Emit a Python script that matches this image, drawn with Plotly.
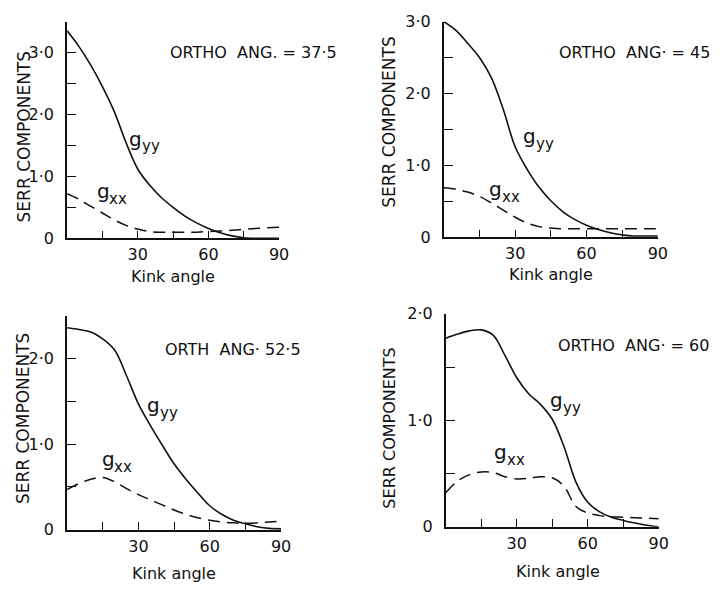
import plotly.graph_objects as go
from plotly.subplots import make_subplots

# Kink angle (degrees) at which the strain energy release rate components are read
kink_angle = [0, 5, 10, 15, 20, 25, 30, 35, 40, 45, 50, 55, 60, 65, 70, 75, 80, 85, 90]

# Orthotropy angle 37.5
gyy_375 = [3.35, 3.10, 2.80, 2.45, 2.05, 1.55, 1.12, 0.86, 0.66, 0.50, 0.36, 0.25, 0.16, 0.09, 0.04, 0.01, 0.0, 0.0, 0.0]
gxx_375 = [0.72, 0.63, 0.52, 0.41, 0.30, 0.21, 0.15, 0.11, 0.10, 0.10, 0.10, 0.10, 0.11, 0.12, 0.13, 0.145, 0.16, 0.17, 0.18]

# Orthotropy angle 45
gyy_45 = [3.00, 2.88, 2.70, 2.50, 2.22, 1.78, 1.26, 0.95, 0.70, 0.51, 0.36, 0.25, 0.17, 0.11, 0.065, 0.035, 0.02, 0.02, 0.02]
gxx_45 = [0.69, 0.67, 0.63, 0.57, 0.48, 0.38, 0.28, 0.20, 0.15, 0.13, 0.12, 0.12, 0.12, 0.12, 0.12, 0.12, 0.12, 0.12, 0.12]

# Orthotropy angle 52.5
gyy_525 = [2.36, 2.34, 2.31, 2.23, 2.10, 1.80, 1.47, 1.22, 0.99, 0.77, 0.59, 0.43, 0.28, 0.18, 0.11, 0.07, 0.035, 0.015, 0.01]
gxx_525 = [0.47, 0.54, 0.59, 0.61, 0.56, 0.48, 0.41, 0.35, 0.29, 0.23, 0.18, 0.14, 0.11, 0.09, 0.08, 0.075, 0.08, 0.09, 0.10]

# Orthotropy angle 60
gyy_60 = [1.77, 1.81, 1.84, 1.85, 1.80, 1.61, 1.40, 1.25, 1.15, 1.01, 0.75, 0.42, 0.23, 0.14, 0.09, 0.06, 0.035, 0.015, 0.0]
gxx_60 = [0.32, 0.43, 0.49, 0.515, 0.51, 0.47, 0.45, 0.455, 0.47, 0.46, 0.38, 0.19, 0.13, 0.105, 0.095, 0.09, 0.085, 0.08, 0.075]

panel_titles = ["ORTHO  ANG. = 37·5", "ORTHO  ANG· = 45", "ORTH  ANG· 52·5", "ORTHO  ANG· = 60"]
y_max = [3.5, 3.0, 2.5, 2.0]
x_tickvals = [30, 60, 90]
x_ticktext = ["30", "60", "90"]
y_tickvals = [0, 1, 2, 3]
y_ticktext = ["0", "1·0", "2·0", "3·0"]

W, H = 725, 591


def fx(p):
    return p / W


def fy(p):
    return 1 - p / H


# Pixel boxes of the four panels: left, right, top, bottom
boxes = [(68, 283, 13, 237), (450, 667, 13, 236), (68, 285, 317, 538), (452, 668, 315, 535)]

fig = make_subplots(rows=2, cols=2)
series = [(gyy_375, gxx_375), (gyy_45, gxx_45), (gyy_525, gxx_525), (gyy_60, gxx_60)]
cells = [(1, 1), (1, 2), (2, 1), (2, 2)]

font = "DejaVu Sans"
ink = "#111111"

for i, ((gyy, gxx), (r, c)) in enumerate(zip(series, cells)):
    fig.add_trace(go.Scatter(x=kink_angle, y=gyy, mode="lines", line=dict(color=ink, width=1.6, shape="spline", smoothing=1.0),
                             cliponaxis=False, showlegend=False), row=r, col=c)
    fig.add_trace(go.Scatter(x=kink_angle, y=gxx, mode="lines", line=dict(color=ink, width=1.5, dash="12px,7px", shape="spline", smoothing=1.0),
                             cliponaxis=False, showlegend=False), row=r, col=c)

axis_common = dict(showgrid=False, zeroline=False, showline=True, linecolor=ink, linewidth=1.6,
                   ticks="inside", tickcolor=ink, tickwidth=1.4,
                   tickfont=dict(family=font, size=16, color=ink))

for i, (l, rgt, t, b) in enumerate(boxes):
    n = "" if i == 0 else str(i + 1)
    nlab = int(y_max[i]) + 1
    fig.layout["xaxis" + n].update(domain=[fx(l), fx(rgt)], range=[0, 90], tickvals=x_tickvals, ticktext=x_ticktext,
                                   ticklen=8, ticklabelstandoff=1,
                                   minor=dict(tickmode="linear", tick0=0, dtick=15, ticks="inside", ticklen=8,
                                              tickwidth=1.4, tickcolor=ink, showgrid=False),
                                   **axis_common)
    fig.layout["yaxis" + n].update(domain=[fy(b), fy(t)], range=[0, y_max[i]],
                                   tickvals=y_tickvals[:nlab], ticktext=y_ticktext[:nlab],
                                   ticklen=9, ticklabelstandoff=8,
                                   minor=dict(tickmode="linear", tick0=0, dtick=0.5, ticks="inside", ticklen=9,
                                              tickwidth=1.4, tickcolor=ink, showgrid=False),
                                   **axis_common)

annotations = []


def note(text, x, y, size, xanchor="left", angle=0):
    annotations.append(dict(text=text, x=fx(x), y=fy(y), xref="paper", yref="paper", showarrow=False,
                            xanchor=xanchor, yanchor="middle", textangle=angle,
                            font=dict(family=font, size=size, color=ink)))


title_pos = [(170, 45), (565, 45), (165, 352), (564, 348)]
for txt, (x, y) in zip(panel_titles, title_pos):
    note(txt, x, y, 16)


def g_label(sub, x, y):
    # letter g with its two-letter subscript set just below the baseline
    note("g", x, y, 20)
    note(sub, x + 13, y + 8, 15)


for x, y in [(129, 134), (528, 131), (147, 409), (556, 404)]:
    g_label("yy", x, y)
for x, y in [(96, 188), (494, 186), (101, 465), (499, 458)]:
    g_label("xx", x, y)

for x, y, s in [(24, 132, 17), (395, 117, 17), (24, 423, 17), (395, 433, 16)]:
    note("SERR COMPONENTS", x, y, s, xanchor="center", angle=-90)

for x, y in [(175, 276), (559, 274), (176, 583), (566, 581)]:
    note("Kink angle", x, y, 16, xanchor="center")

fig.update_layout(width=W, height=H, margin=dict(l=0, r=0, t=0, b=0), paper_bgcolor="white", plot_bgcolor="white",
                  annotations=annotations)

fig.write_html("out.html")
